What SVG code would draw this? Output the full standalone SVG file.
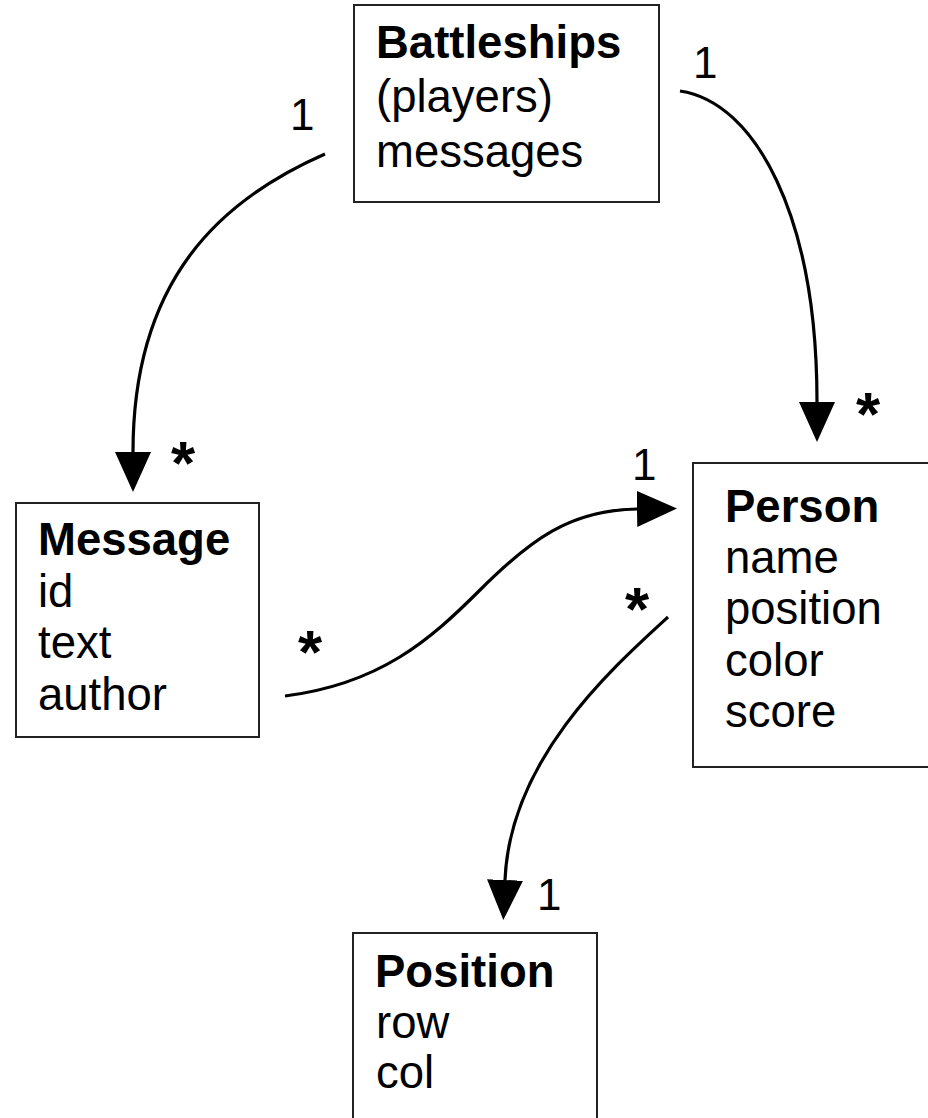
<svg xmlns="http://www.w3.org/2000/svg" width="928" height="1118" viewBox="0 0 928 1118">
<style>
.box{fill:#fff;stroke:#222;stroke-width:2}
.t{font-family:"Liberation Sans",Arial,sans-serif;font-size:45.5px;fill:#000}
.b{font-weight:bold}
.lbl{font-family:"Liberation Sans",Arial,sans-serif;font-size:44px;fill:#000}
.ast{font-family:"Liberation Sans",Arial,sans-serif;font-size:62px;font-weight:bold;fill:#000}
.edge{fill:none;stroke:#000;stroke-width:3.2;marker-end:url(#arr)}
</style>
<defs>
<marker id="arr" markerUnits="userSpaceOnUse" markerWidth="40" markerHeight="36" viewBox="0 0 40 36" refX="0" refY="18" orient="auto">
<path d="M0,0 L40,18 L0,36 z" fill="#000"/>
</marker>
</defs>
<rect width="928" height="1118" fill="#fff"/>
<g id="connectors">
<path class="edge" d="M325,154 C220,200 133,280 133,452"/>
<path class="edge" d="M680,91 C755,102 817,215 817,402"/>
<path class="edge" d="M285,696 C380,684 430,640 480,590 S570,510 637,509"/>
<path class="edge" d="M668,617 C610,670 510,760 505,880"/>
</g>
<g id="labels">
<text class="lbl" x="290" y="130">1</text>
<text class="ast" x="171" y="484">*</text>
<text class="lbl" x="693" y="78">1</text>
<text class="ast" x="856" y="435">*</text>
<text class="ast" x="298" y="673">*</text>
<text class="lbl" x="632" y="480">1</text>
<text class="ast" x="625" y="630">*</text>
<text class="lbl" x="537" y="910">1</text>
</g>
<g id="battleships">
<rect class="box" x="354" y="5" width="305" height="197"/>
<text class="t b" x="376" y="58">Battleships</text>
<text class="t" x="376" y="112">(players)</text>
<text class="t" x="376" y="167">messages</text>
</g>
<g id="message">
<rect class="box" x="16" y="503" width="243" height="234"/>
<text class="t b" x="38" y="555">Message</text>
<text class="t" x="38" y="607">id</text>
<text class="t" x="38" y="658">text</text>
<text class="t" x="38" y="710">author</text>
</g>
<g id="person">
<rect class="box" x="693" y="463" width="240" height="304"/>
<text class="t b" x="725" y="522">Person</text>
<text class="t" x="725" y="573">name</text>
<text class="t" x="725" y="624">position</text>
<text class="t" x="725" y="676">color</text>
<text class="t" x="725" y="727">score</text>
</g>
<g id="position">
<rect class="box" x="353" y="933" width="244" height="200"/>
<text class="t b" x="375" y="987">Position</text>
<text class="t" x="376" y="1038">row</text>
<text class="t" x="376" y="1088">col</text>
</g>
</svg>
